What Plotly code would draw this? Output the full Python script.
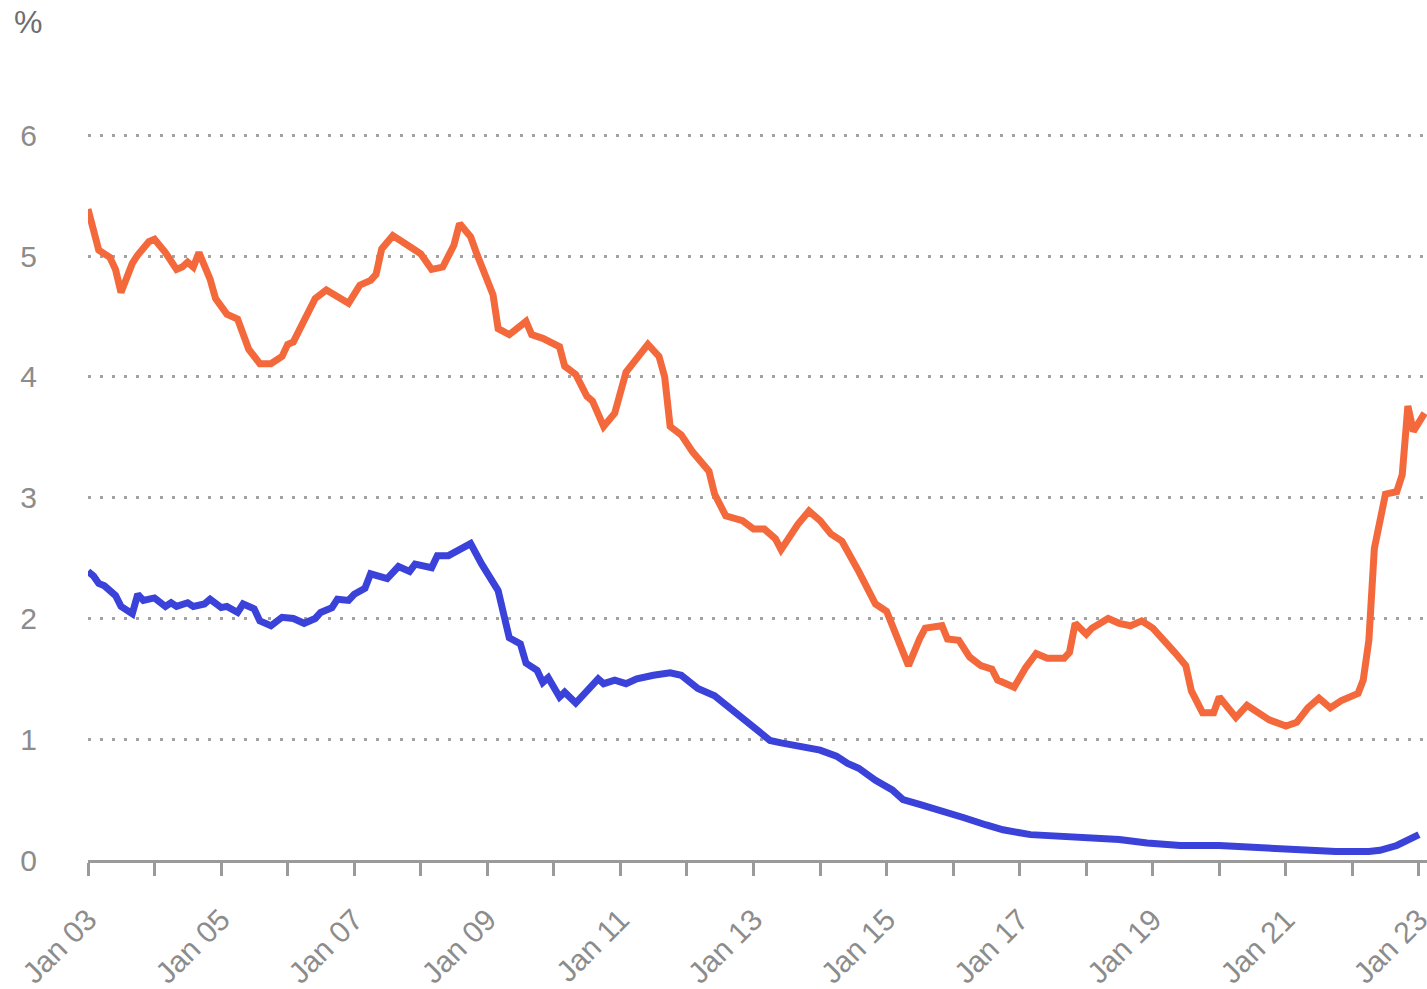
import plotly.graph_objects as go

# Orange series (upper line)
orange_dates = [
    "2003-01", "2003-02", "2003-03", "2003-05", "2003-06", "2003-07", "2003-09", "2003-10", "2003-12",
    "2004-01", "2004-03", "2004-05", "2004-06", "2004-07", "2004-08", "2004-09", "2004-10", "2004-11", "2004-12",
    "2005-02", "2005-04", "2005-06", "2005-08", "2005-10", "2005-12",
    "2006-01", "2006-02", "2006-04", "2006-06", "2006-08", "2006-10", "2006-12",
    "2007-02", "2007-04", "2007-05", "2007-06", "2007-08", "2007-10", "2007-11",
    "2008-01", "2008-03", "2008-05", "2008-07", "2008-08", "2008-10", "2008-11",
    "2009-01", "2009-02", "2009-03", "2009-05", "2009-08", "2009-09", "2009-11",
    "2010-02", "2010-03", "2010-05", "2010-07", "2010-08", "2010-10", "2010-12",
    "2011-02", "2011-06", "2011-08", "2011-09", "2011-10", "2011-12",
    "2012-02", "2012-04", "2012-05", "2012-06", "2012-08", "2012-11",
    "2013-01", "2013-03", "2013-05", "2013-06", "2013-09", "2013-11",
    "2014-01", "2014-03", "2014-05", "2014-08", "2014-11",
    "2015-01", "2015-03", "2015-05", "2015-07", "2015-08", "2015-11", "2015-12",
    "2016-02", "2016-04", "2016-06", "2016-08", "2016-09", "2016-12",
    "2017-02", "2017-04", "2017-06", "2017-09", "2017-10", "2017-11",
    "2018-01", "2018-02", "2018-05", "2018-07", "2018-09", "2018-11",
    "2019-01", "2019-03", "2019-05", "2019-07", "2019-08", "2019-10", "2019-12",
    "2020-01", "2020-04", "2020-06", "2020-09", "2020-10",
    "2021-01", "2021-03", "2021-05", "2021-07", "2021-09", "2021-11",
    "2022-02", "2022-03", "2022-04", "2022-05", "2022-07", "2022-09", "2022-10", "2022-11", "2022-12",
    "2023-02",
]
orange_values = [
    5.39, 5.20, 5.05, 4.99, 4.89, 4.70, 4.94, 5.01, 5.12,
    5.14, 5.03, 4.89, 4.91, 4.95, 4.91, 5.03, 4.93, 4.81, 4.65,
    4.52, 4.48, 4.23, 4.11, 4.11, 4.17,
    4.27, 4.29, 4.46, 4.65, 4.72, 4.66, 4.61,
    4.76, 4.80, 4.85, 5.06, 5.17, 5.10, 5.08,
    5.02, 4.89, 4.91, 5.09, 5.27, 5.16, 5.03,
    4.81, 4.68, 4.40, 4.35, 4.46, 4.35, 4.32,
    4.25, 4.09, 4.02, 3.84, 3.80, 3.59, 3.70,
    4.04, 4.27, 4.17, 4.00, 3.59, 3.52,
    3.38, 3.26, 3.22, 3.03, 2.85, 2.81,
    2.74, 2.74, 2.66, 2.57, 2.78, 2.89,
    2.81, 2.70, 2.64, 2.39, 2.12,
    2.06, 1.84, 1.61, 1.83, 1.92, 1.94, 1.83,
    1.82, 1.68, 1.61, 1.58, 1.49, 1.43,
    1.59, 1.71, 1.67, 1.67, 1.72, 1.96,
    1.87, 1.92, 2.00, 1.96, 1.94, 1.98,
    1.92, 1.83, 1.72, 1.61, 1.40, 1.22, 1.22,
    1.35, 1.18, 1.28, 1.20, 1.16,
    1.11, 1.14, 1.26, 1.34, 1.26, 1.32,
    1.38, 1.49, 1.82, 2.58, 3.03, 3.05, 3.19, 3.76, 3.55,
    3.70,
]

# Blue series (lower line)
blue_dates = [
    "2003-01", "2003-02", "2003-03", "2003-04", "2003-06", "2003-07", "2003-09", "2003-10", "2003-11",
    "2004-01", "2004-03", "2004-04", "2004-05", "2004-07", "2004-08", "2004-10", "2004-11",
    "2005-01", "2005-02", "2005-04", "2005-05", "2005-07", "2005-08", "2005-10", "2005-12",
    "2006-02", "2006-04", "2006-06", "2006-07", "2006-09", "2006-10", "2006-12",
    "2007-01", "2007-03", "2007-04", "2007-07", "2007-09", "2007-11", "2007-12",
    "2008-03", "2008-04", "2008-06", "2008-08", "2008-10", "2008-12",
    "2009-03", "2009-05", "2009-07", "2009-08", "2009-10", "2009-11", "2009-12",
    "2010-02", "2010-03", "2010-05", "2010-07", "2010-09", "2010-10", "2010-12",
    "2011-02", "2011-04", "2011-07", "2011-10", "2011-12",
    "2012-01", "2012-03", "2012-06", "2012-09", "2012-11",
    "2013-02", "2013-04", "2013-06", "2013-09",
    "2014-01", "2014-04", "2014-06", "2014-08", "2014-11",
    "2015-02", "2015-04", "2015-07", "2015-11",
    "2016-03", "2016-07", "2016-10",
    "2017-03", "2017-08", "2018-02", "2018-07", "2018-12",
    "2019-06", "2020-01", "2020-08", "2021-03", "2021-10",
    "2022-04", "2022-06", "2022-09", "2022-12", "2023-01",
]
blue_values = [
    2.39, 2.35, 2.29, 2.27, 2.19, 2.10, 2.04, 2.20, 2.15,
    2.17, 2.10, 2.13, 2.10, 2.13, 2.10, 2.12, 2.16,
    2.09, 2.10, 2.05, 2.12, 2.08, 1.98, 1.94, 2.01,
    2.00, 1.96, 2.00, 2.05, 2.09, 2.16, 2.15,
    2.20, 2.25, 2.37, 2.33, 2.43, 2.39, 2.45,
    2.42, 2.52, 2.52, 2.57, 2.62, 2.45,
    2.23, 1.84, 1.79, 1.63, 1.57, 1.47, 1.51,
    1.35, 1.39, 1.30, 1.40, 1.50, 1.46, 1.49,
    1.46, 1.50, 1.53, 1.55, 1.53,
    1.49, 1.42, 1.36, 1.25, 1.17,
    1.06, 0.99, 0.97, 0.95,
    0.91, 0.86, 0.80, 0.76, 0.66,
    0.58, 0.50, 0.46, 0.41,
    0.35, 0.29, 0.25,
    0.21, 0.20, 0.18, 0.17, 0.14,
    0.12, 0.12, 0.10, 0.08, 0.07,
    0.07, 0.08, 0.12, 0.18, 0.21,
]

# Axis ticks
x_tick_vals = [f"{y}-01-01" for y in range(2003, 2024)]
x_tick_text = [("Jan %02d" % (y % 100)) if (y - 2003) % 2 == 0 else "" for y in range(2003, 2024)]
y_tick_vals = [0, 1, 2, 3, 4, 5, 6]
y_tick_text = ["0", "1", "2", "3", "4", "5", "6"]

ORANGE = "#F4693B"
BLUE = "#3A42D9"
GRID = "#A3A3A3"
AXIS = "#9A9A9A"
TEXT = "#8C8C8C"
FONT = "Liberation Sans, Arial, sans-serif"
FS = 30

fig = go.Figure()
fig.add_trace(go.Scatter(x=orange_dates, y=orange_values, mode="lines",
                         line=dict(color=ORANGE, width=7), showlegend=False))
fig.add_trace(go.Scatter(x=blue_dates, y=blue_values, mode="lines",
                         line=dict(color=BLUE, width=7), showlegend=False))

fig.update_layout(
    width=1427, height=989,
    margin=dict(l=88, r=0, t=133, b=129, autoexpand=False),
    paper_bgcolor="white", plot_bgcolor="white",
    font=dict(family=FONT, size=FS, color=TEXT),
    xaxis=dict(
        type="date",
        range=["2003-01-01", "2023-02-14"],
        tickvals=x_tick_vals, ticktext=x_tick_text,
        tickangle=-45,
        ticks="outside", ticklen=13, tickwidth=3, tickcolor=AXIS,
        ticklabelstandoff=14,
        ticklabeloverflow="allow",
        automargin=False,
        showline=True, linecolor=AXIS, linewidth=3,
        showgrid=False, zeroline=False,
        tickfont=dict(family=FONT, size=FS, color=TEXT),
    ),
    yaxis=dict(
        range=[0, 6.02],
        tickvals=y_tick_vals, ticktext=y_tick_text,
        showgrid=True, gridcolor=GRID, gridwidth=3, griddash="3px,9px",
        zeroline=False, showline=False, ticks="",
        ticklabelstandoff=50,
        automargin=False,
        tickfont=dict(family=FONT, size=FS, color=TEXT),
    ),
    annotations=[dict(
        text="%", xref="paper", yref="paper",
        x=(12 - 88) / 1339, y=(860 - 22) / 727,
        xanchor="left", yanchor="middle", showarrow=False,
        font=dict(family=FONT, size=32, color="#6E6E6E"),
    )],
)

fig.write_html("out.html")
